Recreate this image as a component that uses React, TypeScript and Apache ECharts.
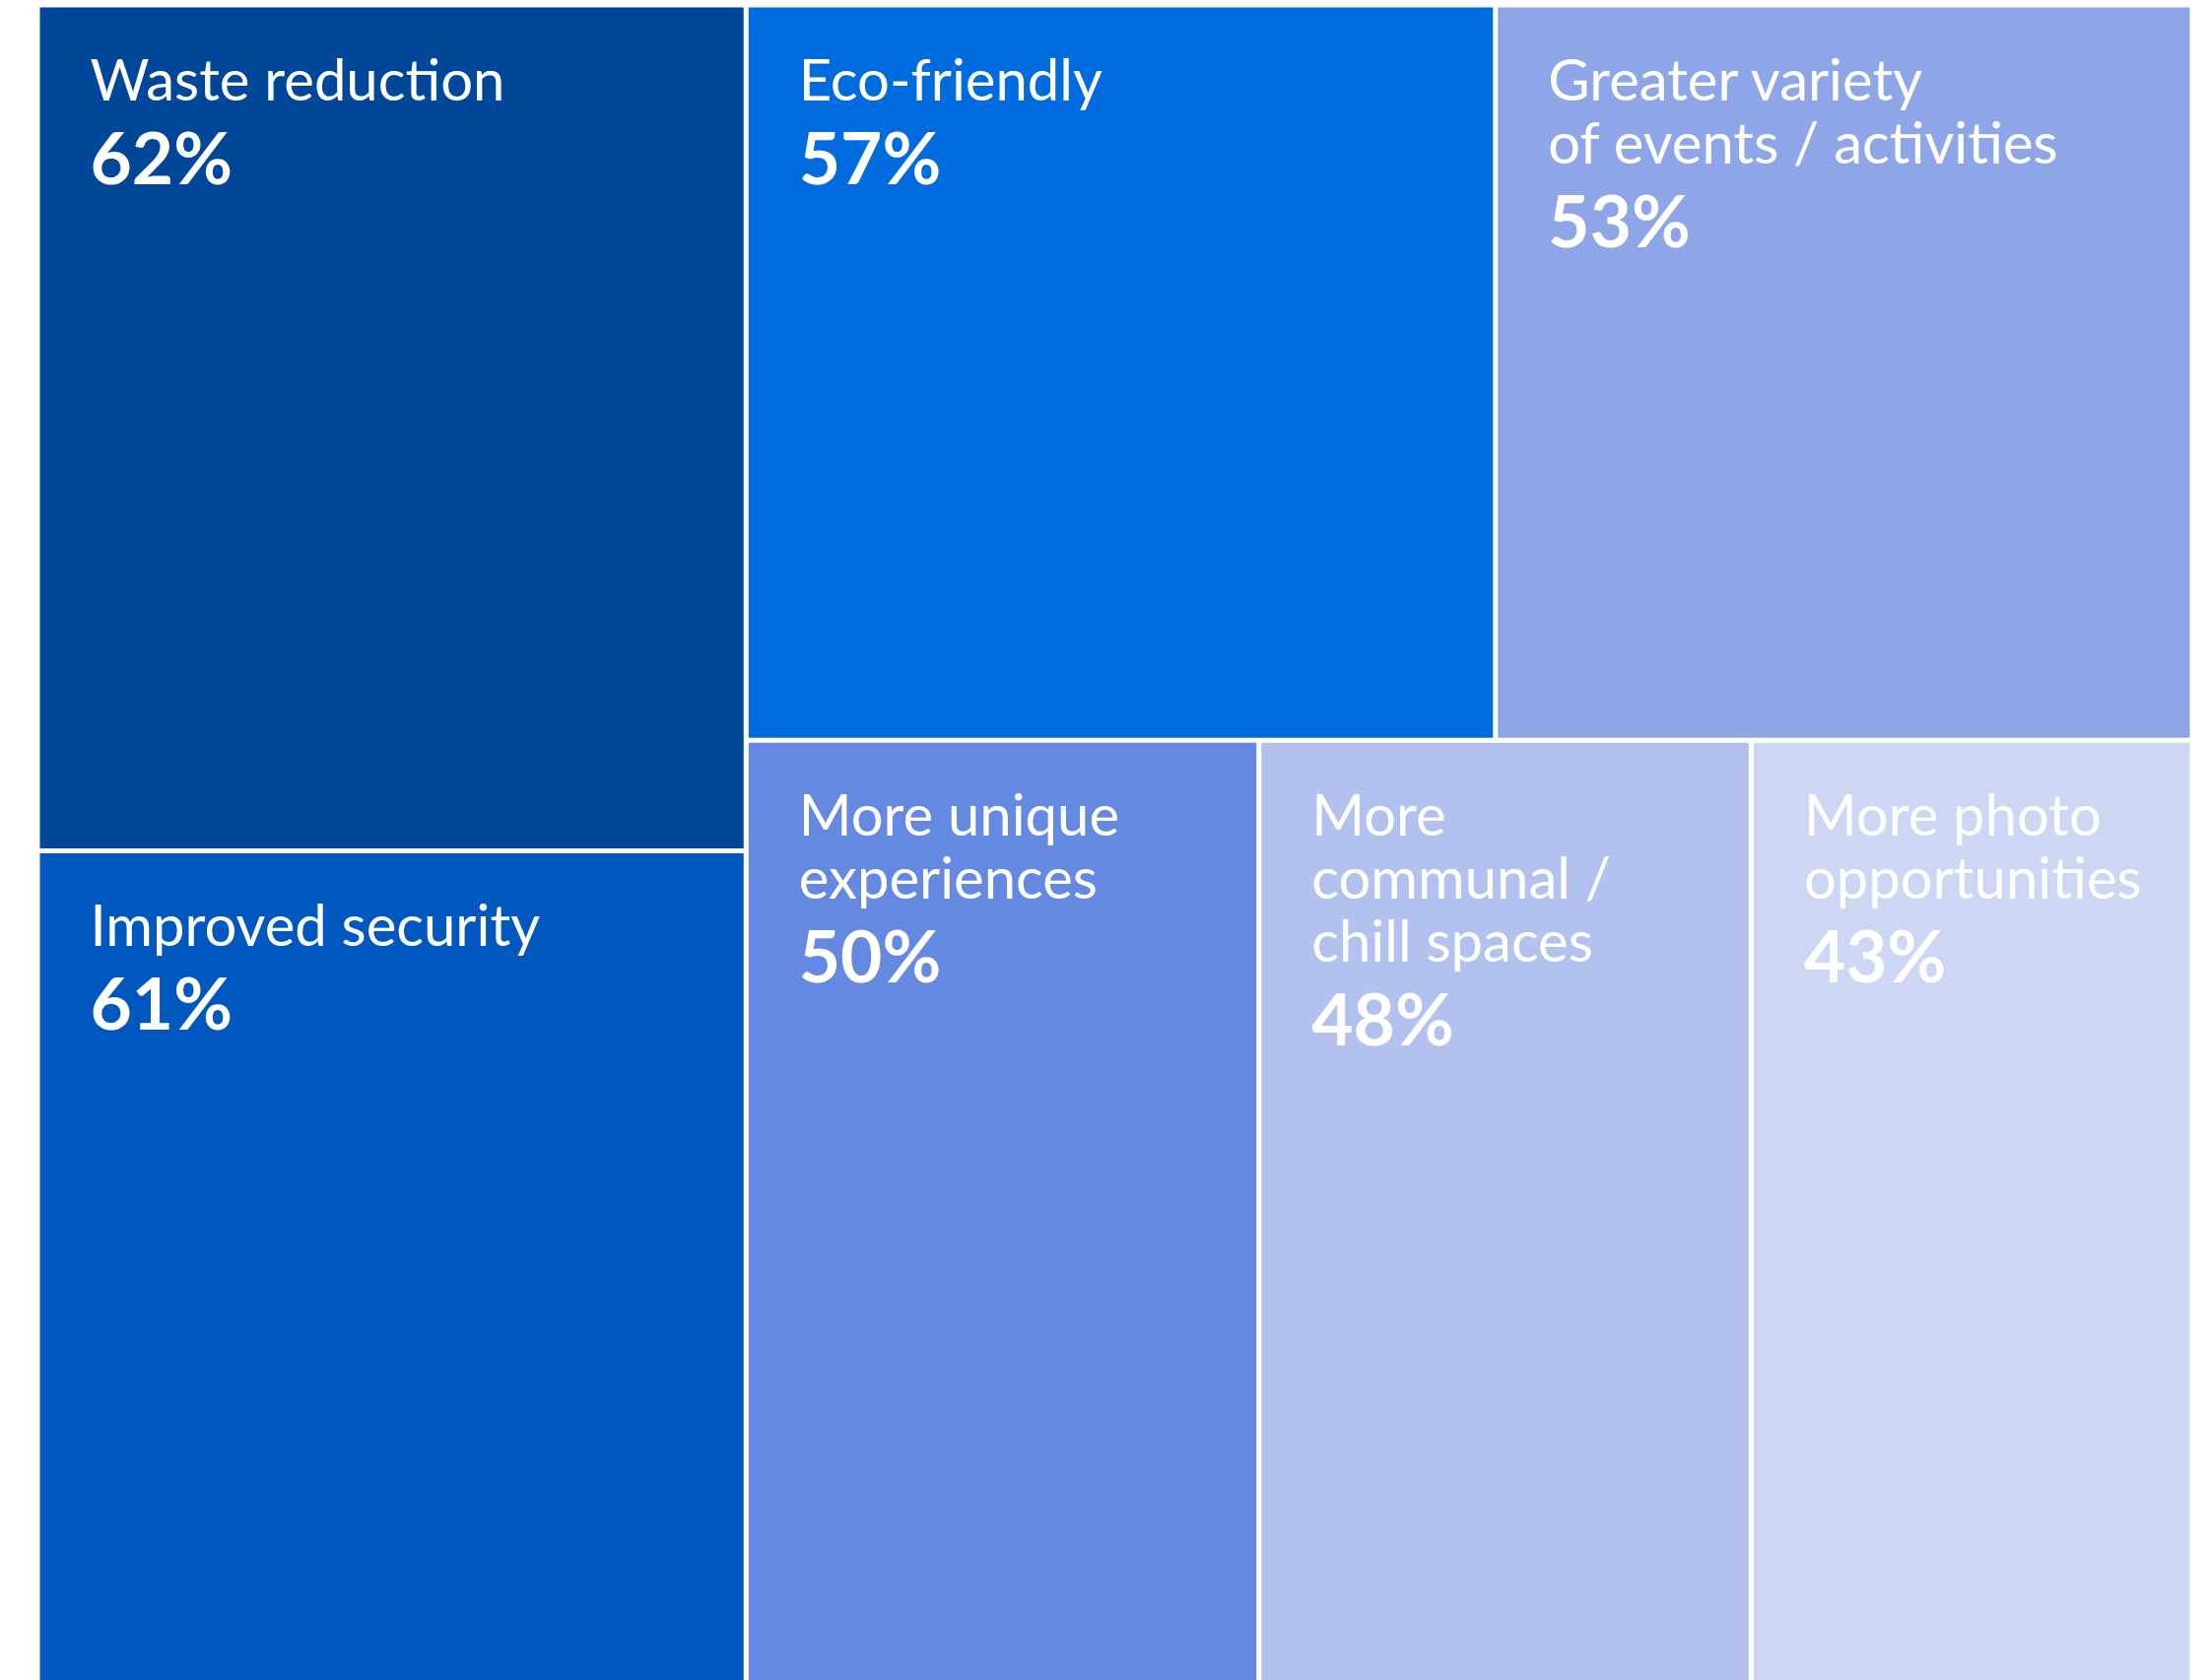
import React, { useEffect, useRef } from "react";
import * as echarts from "echarts";

// Categories (line breaks as in the reference)
const names: string[] = [
  "Waste reduction",
  "Improved security",
  "Eco-friendly",
  "Greater variety\nof events / activities",
  "More unique\nexperiences",
  "More\ncommunal /\nchill spaces",
  "More photo\nopportunities",
];

// Share of respondents (%)
const values: number[] = [62, 61, 57, 53, 50, 48, 43];

// Cell colours
const colors: string[] = [
  "#00479a",
  "#0058bf",
  "#006bdc",
  "#8ea6e8",
  "#6588e0",
  "#b3c1ee",
  "#cdd6f3",
];

// Grouping of the cells (indices into the arrays above)
type Node = number | Node[];
const grouping: Node[] = [[0, 1], [[2, 3], [4, [5, 6]]]];

const FONT = "Lato, 'Noto Sans', sans-serif";

function build(node: Node): any {
  if (typeof node === "number") {
    return {
      name: names[node],
      value: values[node],
      itemStyle: { color: colors[node], borderWidth: 2.5, borderColor: "#ffffff" },
    };
  }
  return {
    name: "",
    children: node.map(build),
    itemStyle: { borderWidth: 0, gapWidth: 0 },
    label: { show: false },
    upperLabel: { show: false },
  };
}

export default function App() {
  const ref = useRef<HTMLDivElement>(null);
  useEffect(() => {
    if (!ref.current) return;
    const chart = echarts.init(ref.current, null, { renderer: "svg" });
    chart.setOption({
      animation: false,
      backgroundColor: "#ffffff",
      series: [
        {
          type: "treemap",
          left: 38,
          top: 5,
          right: 14,
          bottom: -3,
          squareRatio: 1.11,
          sort: false,
          roam: false,
          nodeClick: false,
          breadcrumb: { show: false },
          itemStyle: { borderWidth: 0, gapWidth: 0, borderColor: "#ffffff" },
          upperLabel: { show: false },
          label: {
            show: true,
            position: "insideTopLeft",
            distance: 0,
            padding: [40, 0, 0, 51],
            overflow: "none",
            formatter: (p: any) => `{n|${p.name}}\n{v|${p.value}%}`,
            rich: {
              n: {
                fontFamily: FONT,
                fontSize: 58,
                lineHeight: 64,
                color: "#ffffff",
              },
              v: {
                fontFamily: FONT,
                fontSize: 73,
                fontWeight: "bold",
                lineHeight: 94,
                color: "#ffffff",
              },
            },
          },
          emphasis: { disabled: true },
          data: grouping.map(build),
        },
      ],
    });
    return () => chart.dispose();
  }, []);
  return (
    <div
      ref={ref}
      style={{ position: "absolute", left: 0, top: 0, width: 2239, height: 1705, background: "#fff" }}
    />
  );
}
